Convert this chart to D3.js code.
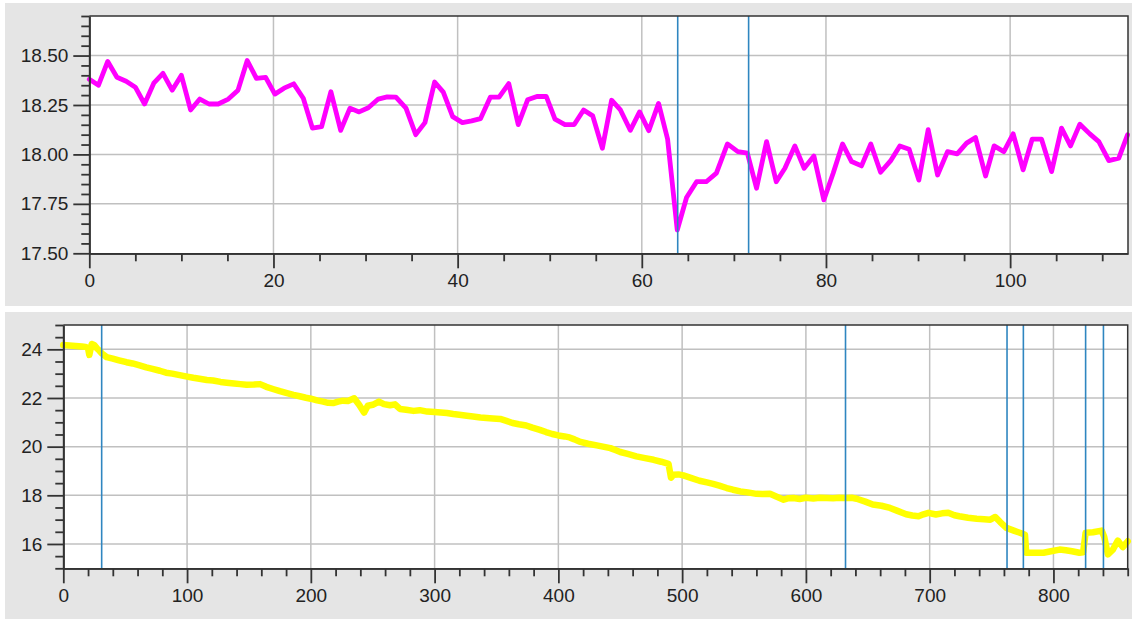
<!DOCTYPE html>
<html><head><meta charset="utf-8">
<script src="https://cdn.jsdelivr.net/npm/d3@7"></script>
<style>
body{margin:0;background:#fff;}
svg{display:block;font-family:"Liberation Sans",Arial,sans-serif;}
.tick text{font-size:19px;fill:#222;}
</style></head><body>
<svg id="c" width="1132" height="619"></svg>
<script>
// ---- Top chart data ----
const topX = [0,1,2,3,4,5,6,7,8,9,10,11,12,13,14,15.1,16.15,17.15,18.15,19.15,20.15,21.15,22.2,23.24,24.23,25.23,26.24,27.3,28.31,29.3,30.3,31.38,32.35,33.3,34.39,35.45,36.45,37.5,38.44,39.46,40.52,41.52,42.48,43.56,44.5,45.55,46.58,47.6,48.61,49.63,50.57,51.65,52.66,53.68,54.67,55.72,56.72,57.68,58.75,59.76,60.76,61.82,62.8,63.85,64.86,65.95,67,68.1,69.3,70.43,71.47,72.46,73.55,74.6,75.54,76.62,77.63,78.69,79.77,80.78,81.8,82.78,83.86,84.87,85.93,87.01,88.02,89.03,90.09,91.1,92.12,93.2,94.25,95.27,96.24,97.33,98.26,99.32,100.33,101.41,102.39,103.41,104.5,105.58,106.56,107.57,108.65,109.63,110.72,111.8,112.75];
const topY = [18.38,18.35,18.47,18.39,18.37,18.34,18.255,18.36,18.41,18.325,18.40,18.225,18.28,18.255,18.255,18.28,18.325,18.475,18.385,18.39,18.305,18.335,18.357,18.284,18.133,18.14,18.317,18.122,18.234,18.215,18.236,18.28,18.291,18.29,18.234,18.10,18.161,18.366,18.315,18.191,18.161,18.17,18.181,18.29,18.29,18.358,18.151,18.276,18.293,18.293,18.178,18.151,18.151,18.225,18.195,18.031,18.274,18.225,18.122,18.215,18.12,18.258,18.078,17.618,17.782,17.862,17.862,17.905,18.053,18.014,18.006,17.829,18.065,17.862,17.93,18.043,17.93,17.992,17.77,17.905,18.053,17.964,17.942,18.053,17.91,17.967,18.043,18.026,17.87,18.125,17.896,18.014,18.003,18.057,18.085,17.891,18.043,18.014,18.104,17.922,18.077,18.077,17.913,18.133,18.043,18.153,18.104,18.065,17.969,17.981,18.099];
const topMarkers = [63.9, 71.6];
const topXTicks = [0,20,40,60,80,100];
const topYTicks = [17.5,17.75,18.0,18.25,18.5];

// ---- Bottom chart data ----
const botX = [0,5,10,15,18,20,21,22,23,25,27,29,31,35,40,45,51,56,61,67,72,78,83,88,94,100,105,110,116,121,127,132,138,143,148,154,159,164,170,175,180,186,191,196,200,205,210,214,218,222,226,230,235,239,243,246,250,255,259,264,268,272,277,283,288,294,300,305,310,315,320,326,331,337,342,347,353,358,363,368,374,379,385,390,395,400,405,409,413,417,424,431,436,442,446,450,456,463,470,477,483,489,491,493,497,501,507,514,520,525,530,536,541,547,553,560,565,571,576,582,586,590,595,600,606,611,617,622,627,632,637,641,648,654,661,668,674,681,686,691,695,699,705,710,715,720,724,731,738,744,749,753,757,762,768,775,777,778,785,792,798,805,810,815,821,824,826,832,839,841,844,848,852,856,860];
const botY = [24.18,24.16,24.14,24.12,24.10,24.05,23.77,24.0,24.22,24.18,24.05,23.95,23.84,23.68,23.62,23.55,23.47,23.42,23.35,23.26,23.20,23.12,23.04,23.00,22.94,22.88,22.83,22.79,22.74,22.72,22.66,22.63,22.60,22.57,22.54,22.55,22.57,22.46,22.36,22.28,22.21,22.13,22.07,22.01,21.97,21.90,21.85,21.80,21.79,21.85,21.89,21.88,21.99,21.72,21.40,21.68,21.72,21.85,21.75,21.70,21.74,21.55,21.52,21.47,21.50,21.44,21.42,21.40,21.38,21.34,21.31,21.27,21.24,21.20,21.18,21.16,21.14,21.06,20.97,20.92,20.87,20.78,20.69,20.60,20.52,20.46,20.42,20.38,20.30,20.21,20.12,20.05,20.00,19.94,19.86,19.78,19.70,19.60,19.53,19.46,19.38,19.29,18.72,18.85,18.86,18.82,18.72,18.60,18.53,18.47,18.40,18.30,18.23,18.16,18.12,18.06,18.05,18.06,17.95,17.82,17.88,17.89,17.85,17.90,17.87,17.90,17.89,17.88,17.90,17.89,17.90,17.86,17.74,17.62,17.57,17.48,17.36,17.22,17.17,17.14,17.22,17.28,17.21,17.26,17.28,17.18,17.14,17.08,17.04,17.02,17.00,17.11,16.90,16.66,16.55,16.42,16.38,15.64,15.64,15.64,15.70,15.77,15.74,15.70,15.64,15.66,16.46,16.48,16.55,16.30,15.57,15.77,16.14,15.87,16.11];
const botMarkers = [31, 632, 762.5, 775.7, 826, 840.4];
const botXTicks = [0,100,200,300,400,500,600,700,800];
const botYTicks = [16,18,20,22,24];

const svg = d3.select("#c");
const GRAY = "#e5e5e5";

function panel(cfg){
  const g = svg.append("g");
  g.append("rect").attr("x",cfg.bg[0]).attr("y",cfg.bg[1]).attr("width",cfg.bg[2]).attr("height",cfg.bg[3]).attr("fill",GRAY);
  const x = d3.scaleLinear().domain(cfg.xd).range([cfg.l, cfg.r]);
  const y = d3.scaleLinear().domain(cfg.yd).range([cfg.b, cfg.t]);
  g.append("rect").attr("x",cfg.l).attr("y",cfg.t).attr("width",cfg.r-cfg.l).attr("height",cfg.b-cfg.t).attr("fill","#fff");
  // grid
  g.selectAll(".gx").data(cfg.xt.filter(v=>v>cfg.xd[0])).join("line")
    .attr("x1",d=>x(d)).attr("x2",d=>x(d)).attr("y1",cfg.t).attr("y2",cfg.b)
    .attr("stroke","#c0c0c0").attr("stroke-width",1.5);
  g.selectAll(".gy").data(cfg.yt.filter(v=>v>cfg.yd[0])).join("line")
    .attr("y1",d=>y(d)).attr("y2",d=>y(d)).attr("x1",cfg.l).attr("x2",cfg.r)
    .attr("stroke","#c0c0c0").attr("stroke-width",1.5);
  // data line
  const pts = cfg.xs.map((v,i)=>[v,cfg.ys[i]]);
  g.append("path").datum(pts)
    .attr("d", d3.line().x(d=>x(d[0])).y(d=>y(d[1])))
    .attr("fill","none").attr("stroke",cfg.color).attr("stroke-width",cfg.lw)
    .attr("stroke-linejoin","round").attr("stroke-linecap","round");
  // markers
  g.selectAll(".mk").data(cfg.markers).join("line")
    .attr("x1",d=>x(d)).attr("x2",d=>x(d)).attr("y1",cfg.t).attr("y2",cfg.b)
    .attr("stroke","#2f86c0").attr("stroke-width",1.6);
  // border
  g.append("path").attr("d",`M${cfg.l},${cfg.t}H${cfg.r}V${cfg.b}`).attr("fill","none").attr("stroke","#333").attr("stroke-width",1.5);
  // axes
  const styleAxis = sel => { sel.selectAll("line").attr("stroke","#333").attr("stroke-width",1.8); sel.select(".domain").attr("stroke","#333").attr("stroke-width",1.8); };
  const minorX = d3.range(cfg.xd[0], cfg.xd[1]+1e-9, cfg.xm).filter(v=>!cfg.xt.includes(v));
  const minorY = d3.range(0, Math.round((cfg.yd[1]-cfg.yd[0])/cfg.ym)+1).map(i=>+(cfg.yd[0]+i*cfg.ym).toFixed(4)).filter(v=>!cfg.yt.some(t=>Math.abs(t-v)<1e-6));
  g.append("g").attr("transform",`translate(0,${cfg.b})`)
    .call(d3.axisBottom(x).tickValues(minorX).tickFormat("").tickSize(8).tickSizeOuter(0)).call(styleAxis);
  g.append("g").attr("transform",`translate(0,${cfg.b})`)
    .call(d3.axisBottom(x).tickValues(cfg.xt).tickFormat(d3.format("d")).tickSize(15).tickSizeOuter(0).tickPadding(5)).call(styleAxis);
  g.append("g").attr("transform",`translate(${cfg.l},0)`)
    .call(d3.axisLeft(y).tickValues(minorY).tickFormat("").tickSize(8).tickSizeOuter(0)).call(styleAxis);
  g.append("g").attr("transform",`translate(${cfg.l},0)`)
    .call(d3.axisLeft(y).tickValues(cfg.yt).tickFormat(cfg.yf).tickSize(16).tickSizeOuter(0).tickPadding(5)).call(styleAxis);
}

panel({bg:[5,3,1127,303], l:89.3, r:1128, t:16, b:253.3, xd:[0,112.8], yd:[17.5,18.7],
  xt:topXTicks, yt:topYTicks, xm:5, ym:0.05, yf:d3.format(".2f"),
  xs:topX, ys:topY, color:"#ff00ff", lw:4.8, markers:topMarkers});
panel({bg:[5,312,1127,307], l:63.3, r:1127.7, t:325, b:568.3, xd:[0,860], yd:[15,25],
  xt:botXTicks, yt:botYTicks, xm:20, ym:0.5, yf:d3.format("d"),
  xs:botX, ys:botY, color:"#ffff00", lw:6.5, markers:botMarkers});
</script></body></html>
